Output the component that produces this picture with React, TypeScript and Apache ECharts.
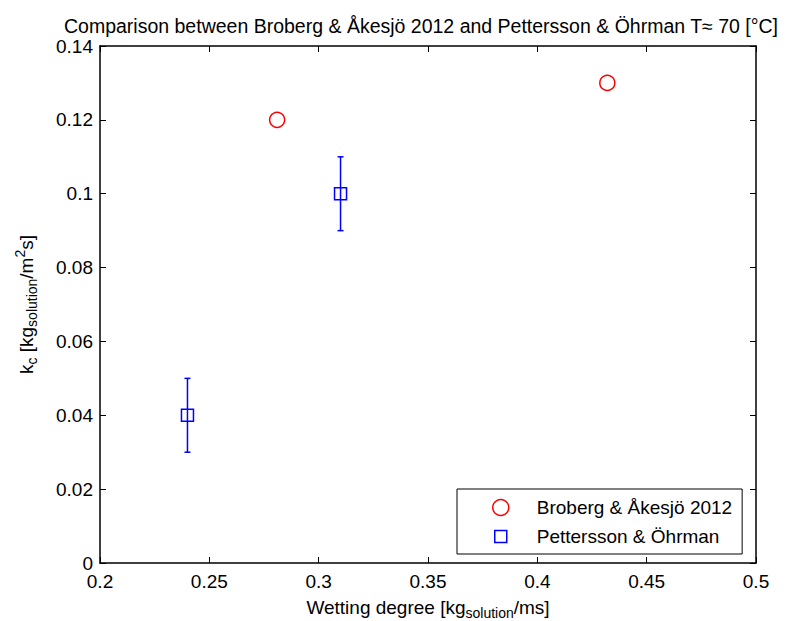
import React, { useEffect, useRef } from "react";
import * as echarts from "echarts";

const titleText =
  "Comparison between Broberg & Åkesjö 2012 and Pettersson & Öhrman T≈ 70 [°C]";
const seriesNames = ["Broberg & Åkesjö 2012", "Pettersson & Öhrman"];

const brobergX = [0.281, 0.432];
const brobergY = [0.12, 0.13];

const petterssonX = [0.24, 0.31];
const petterssonY = [0.04, 0.1];
const petterssonLow = [0.03, 0.09];
const petterssonHigh = [0.05, 0.11];

const xTickLabels = ["0.2", "0.25", "0.3", "0.35", "0.4", "0.45", "0.5"];
const yTickLabels = ["0", "0.02", "0.04", "0.06", "0.08", "0.1", "0.12", "0.14"];

const FONT = "'Liberation Sans', Arial, sans-serif";
const FS = 19;

export default function App() {
  const ref = useRef<HTMLDivElement>(null);

  useEffect(() => {
    if (!ref.current) return;
    const chart = echarts.init(ref.current, null, { renderer: "svg" });

    const broData = brobergX.map((x, i) => [x, brobergY[i]]);
    const petData = petterssonX.map((x, i) => [x, petterssonY[i]]);
    const errData = petterssonX.map((x, i) => [
      x,
      petterssonY[i],
      petterssonLow[i],
      petterssonHigh[i],
    ]);

    const rich = {
      m: { fontSize: FS, fontFamily: FONT, color: "#000", lineHeight: 26 },
      s: {
        fontSize: 14,
        fontFamily: FONT,
        color: "#000",
        lineHeight: 12,
        verticalAlign: "bottom",
      },
      p: {
        fontSize: 14,
        fontFamily: FONT,
        color: "#000",
        lineHeight: 12,
        verticalAlign: "top",
      },
    };

    const baseAxis = {
      splitLine: { show: false },
      axisLine: { show: true, onZero: false, lineStyle: { color: "#000", width: 1.5 } },
      axisTick: { show: true, inside: true, length: 6, lineStyle: { color: "#000", width: 1 } },
    };

    chart.setOption({
      animation: false,
      backgroundColor: "#fff",
      textStyle: { fontFamily: FONT },
      grid: {
        left: 100,
        right: 31,
        top: 46,
        bottom: 58,
        containLabel: false,
        outerBoundsMode: "none",
      },
      graphic: [
        {
          type: "text",
          x: 421,
          y: 26,
          style: {
            text: titleText,
            font: `${FS + 0.5}px ${FONT}`,
            fill: "#000",
            textAlign: "center",
            textVerticalAlign: "middle",
          },
        },
      ],
      xAxis: [
        {
          ...baseAxis,
          type: "value",
          position: "bottom",
          min: 0.2,
          max: 0.5,
          interval: 0.05,
          axisLabel: {
            color: "#000",
            fontSize: FS,
            fontFamily: FONT,
            margin: 9,
            formatter: (_v: number, i: number) => xTickLabels[i],
          },
          name: "{m|Wetting degree [kg}{s|solution}{m|/ms]}",
          nameLocation: "middle",
          nameGap: 31,
          nameTextStyle: { rich },
        },
        {
          ...baseAxis,
          type: "value",
          position: "top",
          min: 0.2,
          max: 0.5,
          interval: 0.05,
          axisLabel: { show: false },
        },
      ],
      yAxis: [
        {
          ...baseAxis,
          type: "value",
          position: "left",
          min: 0,
          max: 0.14,
          interval: 0.02,
          axisLabel: {
            color: "#000",
            fontSize: FS,
            fontFamily: FONT,
            margin: 7,
            formatter: (_v: number, i: number) => yTickLabels[i],
          },
          name: "{m|k}{s|c}{m| [kg}{s|solution}{m|/m}{p|2}{m|s]}",
          nameLocation: "middle",
          nameRotate: 90,
          nameGap: 61,
          nameTextStyle: { rich },
        },
        {
          ...baseAxis,
          type: "value",
          position: "right",
          min: 0,
          max: 0.14,
          interval: 0.02,
          axisLabel: { show: false },
        },
      ],
      legend: {
        orient: "vertical",
        left: 457,
        top: 489,
        padding: [9, 10, 8, 35],
        itemGap: 10,
        itemWidth: 16,
        itemHeight: 16,
        backgroundColor: "#fff",
        borderColor: "#000",
        borderWidth: 1,
        selectedMode: false,
        textStyle: {
          color: "#000",
          fontSize: FS,
          fontFamily: FONT,
          padding: [0, 0, 0, 23],
        },
        data: [
          {
            name: seriesNames[0],
            icon: "circle",
            itemStyle: {
              color: "rgba(0,0,0,0)",
              borderColor: "#ff0000",
              borderWidth: 1.5,
            },
          },
          {
            name: seriesNames[1],
            icon: "path://M0,0M16,16M2,2L14,2L14,14L2,14Z",
            itemStyle: {
              color: "rgba(0,0,0,0)",
              borderColor: "#0000ff",
              borderWidth: 1.5,
            },
          },
        ],
      },
      series: [
        {
          name: "errorbars",
          type: "custom",
          xAxisIndex: 0,
          yAxisIndex: 0,
          encode: { x: 0, y: [1, 2, 3] },
          data: errData,
          z: 2,
          renderItem: (_params: any, api: any) => {
            const x = api.value(0);
            const lo = api.coord([x, api.value(2)]);
            const hi = api.coord([x, api.value(3)]);
            const cap = 3;
            const style = { stroke: "#0000ff", lineWidth: 1.5 };
            return {
              type: "group",
              children: [
                { type: "line", shape: { x1: lo[0], y1: lo[1], x2: hi[0], y2: hi[1] }, style },
                { type: "line", shape: { x1: lo[0] - cap, y1: lo[1], x2: lo[0] + cap, y2: lo[1] }, style },
                { type: "line", shape: { x1: hi[0] - cap, y1: hi[1], x2: hi[0] + cap, y2: hi[1] }, style },
              ],
            };
          },
        },
        {
          name: seriesNames[0],
          type: "scatter",
          symbol: "circle",
          symbolSize: 15,
          data: broData,
          z: 3,
          itemStyle: {
            color: "rgba(0,0,0,0)",
            borderColor: "#ff0000",
            borderWidth: 1.5,
            opacity: 1,
          },
        },
        {
          name: seriesNames[1],
          type: "scatter",
          symbol: "rect",
          symbolSize: 12,
          data: petData,
          z: 3,
          itemStyle: {
            color: "rgba(0,0,0,0)",
            borderColor: "#0000ff",
            borderWidth: 1.5,
            opacity: 1,
          },
        },
      ],
    });

    return () => chart.dispose();
  }, []);

  return (
    <div
      ref={ref}
      style={{ position: "fixed", left: 0, top: 0, width: 787, height: 621 }}
    />
  );
}
